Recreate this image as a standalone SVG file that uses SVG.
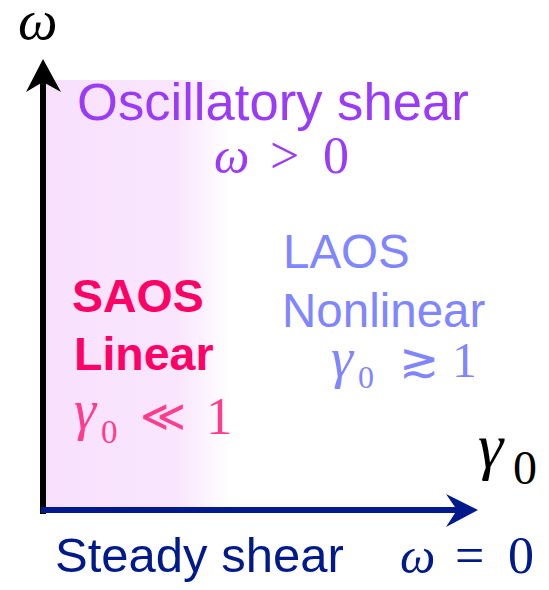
<svg xmlns="http://www.w3.org/2000/svg" width="549" height="590" viewBox="0 0 549 590">
<style>
.sans{font-family:"Liberation Sans",Arial,sans-serif}
.math{font-family:"Liberation Serif","DejaVu Serif",serif}
.mi{font-style:italic}
</style>
<defs>
<linearGradient id="shade" x1="0" y1="0" x2="1" y2="0">
<stop offset="0" stop-color="#f8e0fc"/>
<stop offset="0.72" stop-color="#f9e6fd"/>
<stop offset="1" stop-color="#ffffff"/>
</linearGradient>
</defs>
<rect id="region" x="45" y="80" width="185" height="432" fill="url(#shade)"/>
<g id="connectors">
<g id="axis-omega">
<line x1="43" y1="514" x2="43" y2="80" stroke="#000" stroke-width="6"/>
<path d="M43,59 L61,92 L43,82 L26,92 Z" fill="#000"/>
</g>
<g id="axis-gamma">
<line x1="41" y1="510" x2="460" y2="510" stroke="#001a8c" stroke-width="6"/>
<path d="M478,510 L446,527 L457,510 L446,494 Z" fill="#001a8c"/>
</g>
</g>
<g id="label-omega"><text x="18" y="39" class="math mi" font-size="56" fill="#000">ω</text></g>
<g id="label-gamma"><text x="478" y="467" class="math mi" font-size="64" fill="#000">γ</text><text x="513" y="484" class="math" font-size="48" fill="#000">0</text></g>
<g id="oscillatory">
<text x="77" y="120" class="sans" font-size="52.6" fill="#9a3cf7">Oscillatory shear</text>
<g class="math" fill="#9a3cf7" font-size="52">
<text x="214" y="173" class="mi" font-size="50">ω</text>
<text x="270" y="173">&gt;</text>
<text x="323" y="173">0</text>
</g>
</g>
<g id="saos">
<text x="72" y="312" class="sans" font-size="46.5" font-weight="bold" fill="#ff0066">SAOS</text>
<text x="74" y="370" class="sans" font-size="46.5" font-weight="bold" fill="#ff0066">Linear</text>
<g class="math" fill="#ff3d8f" font-size="53">
<text x="74" y="429" class="mi" font-size="56">γ</text>
<text x="101" y="443" font-size="33">0</text>
<text x="140" y="431" font-size="44">≪</text>
<text x="206" y="434">1</text>
</g>
</g>
<g id="laos">
<text x="283" y="268" class="sans" font-size="47.5" fill="#7f86ff">LAOS</text>
<text x="282" y="327" class="sans" font-size="47.5" fill="#7f86ff">Nonlinear</text>
<g class="math" fill="#7f86ff" font-size="50">
<text x="331" y="377" class="mi" font-size="56">γ</text>
<text x="358" y="388" font-size="32">0</text>
<text x="399" y="377" font-size="48">≳</text>
<text x="452" y="377">1</text>
</g>
</g>
<g id="steady">
<text x="55" y="572" class="sans" font-size="49" fill="#001a8c">Steady shear</text>
<g class="math" fill="#001a8c" font-size="52">
<text x="400" y="573" class="mi" font-size="50">ω</text>
<text x="455" y="573">=</text>
<text x="508" y="573">0</text>
</g>
</g>
</svg>
